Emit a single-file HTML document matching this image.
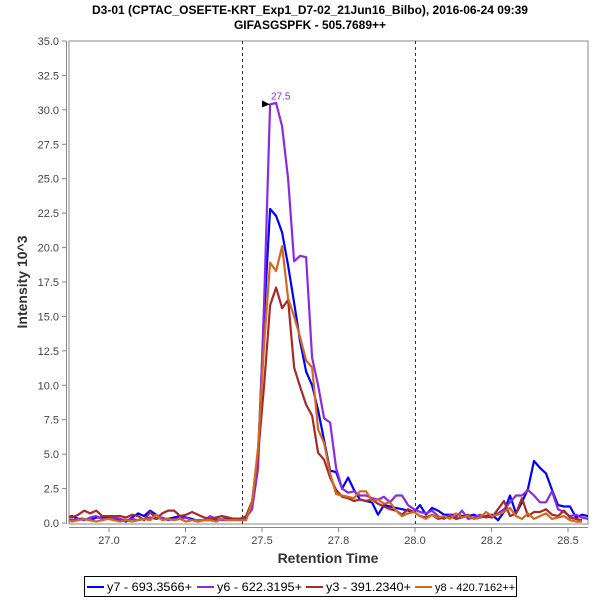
<!DOCTYPE html>
<html><head><meta charset="utf-8">
<style>
html,body{margin:0;padding:0;background:#fff;}
svg{display:block;font-family:"Liberation Sans",sans-serif;}
</style></head>
<body>
<svg id="chart" width="600" height="600" viewBox="0 0 600 600">
  <text x="310" y="14" text-anchor="middle" font-size="12" font-weight="bold" fill="#000">D3-01 (CPTAC_OSEFTE-KRT_Exp1_D7-02_21Jun16_Bilbo), 2016-06-24 09:39</text>
  <text x="310" y="29" text-anchor="middle" font-size="12" font-weight="bold" fill="#000">GIFASGSPFK - 505.7689++</text>
  <rect x="69" y="41" width="519" height="483" fill="#fff" stroke="#888" stroke-width="1"/>
  <g id="yaxis"></g>
  <g id="xaxis"></g>
  <g id="markers"></g>
  <g id="series"></g>
  <text transform="translate(27,282) rotate(-90)" text-anchor="middle" font-size="14" font-weight="bold" fill="#333">Intensity 10^3</text>
  <text x="328" y="563" text-anchor="middle" font-size="14" font-weight="bold" fill="#333">Retention Time</text>
  <g>
    <rect x="84.5" y="576.5" width="432" height="20" fill="#fff" stroke="#000" stroke-width="1"/>
    <g><line x1="87" y1="587" x2="104" y2="587" stroke="#0000ff" stroke-width="2"/><text x="107" y="591" font-size="11.5" textLength="85" lengthAdjust="spacingAndGlyphs" fill="#000">y7 - 693.3566+</text></g>
    <g><line x1="197" y1="587" x2="214" y2="587" stroke="#8a2be2" stroke-width="2"/><text x="217" y="591" font-size="11.5" textLength="85" lengthAdjust="spacingAndGlyphs" fill="#000">y6 - 622.3195+</text></g>
    <g><line x1="306" y1="587" x2="323" y2="587" stroke="#a52a2a" stroke-width="2"/><text x="326" y="591" font-size="11.5" textLength="85" lengthAdjust="spacingAndGlyphs" fill="#000">y3 - 391.2340+</text></g>
    <g><line x1="415" y1="587" x2="432" y2="587" stroke="#d2691e" stroke-width="2"/><text x="435" y="591" font-size="11" fill="#000">y8 - 420.7162++</text></g>
  </g>
</svg>
<script>
const yTicks = [0, 2.5, 5, 7.5, 10, 12.5, 15, 17.5, 20, 22.5, 25, 27.5, 30, 32.5, 35];
const xTicks = [27.0, 27.25, 27.5, 27.75, 28.0, 28.25, 28.5];
const xTickLabels = ["27.0", "27.2", "27.5", "27.8", "28.0", "28.2", "28.5"];
const boundaryTimes = [27.435, 28.0];
const timeStart = 26.86;
const timeStep = 0.0196;
const y7 = [0.4,0.5,0.3,0.3,0.2,0.4,0.4,0.4,0.3,0.2,0.1,0.4,0.7,0.5,0.9,0.6,0.3,0.3,0.4,0.5,0.4,0.3,0.1,0.2,0.2,0.2,0.3,0.3,0.3,0.3,
  0.3,1.5,5,15,22.8,22.3,21.1,18.7,16,13.2,11,10,8.2,6,3.8,3.7,2.5,3.3,2.4,1.7,1.6,1.5,0.6,1.3,1.2,1.1,1.0,0.9,0.8,
  1.3,0.6,1.1,0.9,0.6,0.6,0.6,0.5,0.5,0.6,0.4,0.5,0.6,0.2,0.8,2.0,0.7,1.5,2.5,4.5,4.0,3.6,2.4,1.3,1.2,1.2,0.4,0.6,0.5];
const y6 = [0.3,0.2,0.3,0.2,0.4,0.5,0.3,0.3,0.4,0.3,0.2,0.3,0.2,0.3,0.4,0.3,0.4,0.2,0.3,0.3,0.4,0.2,0.2,0.2,0.5,0.3,0.2,0.2,0.3,0.3,
  0.4,1.0,4,16,30.4,30.5,28.8,25.0,19.0,19.4,19.3,12,10,7.6,7.3,4.0,2.5,2.2,2.3,2.0,2.0,1.8,1.7,1.9,1.5,2.0,2.0,1.3,1.0,
  0.8,0.7,0.9,0.5,0.3,0.6,0.4,0.9,0.3,0.4,0.6,0.4,0.5,0.7,1.0,1.5,2.0,2.0,2.4,2.0,1.5,1.5,2.3,1.0,0.8,0.5,0.6,0.4,0.3];
const y3 = [0.5,0.4,0.6,0.9,0.7,0.9,0.5,0.5,0.5,0.5,0.4,0.6,0.5,0.2,0.8,0.3,0.7,0.9,0.9,0.5,0.6,0.8,0.6,0.4,0.3,0.4,0.5,0.4,0.3,0.3,
  0.5,1.6,5,10,15.8,17.1,15.6,16.2,11.3,9.9,8.6,7.8,5.1,4.6,3.3,2.4,1.9,1.8,1.6,1.7,1.6,1.7,1.4,1.2,1.0,0.9,0.6,1.0,0.8,
  0.5,0.4,0.6,0.3,0.4,0.5,0.3,0.4,0.6,0.3,0.4,0.5,0.4,1.0,1.6,0.5,0.7,1.8,0.5,0.8,0.8,1.0,0.6,0.5,0.9,0.4,0.3,0.2];
const y8 = [0.2,0.1,0.2,0.3,0.2,0.1,0.2,0.3,0.2,0.1,0.2,0.1,0.2,0.3,0.2,0.6,0.2,0.3,0.2,0.3,0.1,0.2,0.1,0.2,0.2,0.1,0.3,0.2,0.2,0.2,
  0.2,1.5,5.5,13,18.9,18.3,20.1,16.3,15.0,13.5,11.8,11.3,6.8,5.8,3.6,2.1,2.0,1.9,1.8,2.3,2.3,1.6,1.7,1.4,1.5,0.9,0.5,0.7,0.8,
  0.5,0.3,0.6,0.4,0.5,0.3,0.7,0.4,0.5,0.3,0.4,0.8,0.5,0.6,0.8,1.1,0.5,0.3,0.7,0.3,0.5,0.7,0.3,0.4,0.5,0.2,0.1,0.1];
const seriesNames = ["y7", "y6", "y3", "y8"];
const seriesValues = [y7, y6, y3, y8];
const seriesColors = ["#0000ff", "#8a2be2", "#a52a2a", "#d2691e"];
const peakLabel = "27.5";
const peakTime = 27.526;
const peakValue = 30.4;

const NS = "http://www.w3.org/2000/svg";
const X0 = 68, PX = 306, XMIN = 26.866;
const Y0 = 523, PY = (523 - 41) / 35;
function xs(t) { return X0 + (t - XMIN) * PX; }
function ys(v) { return Y0 - v * PY; }
function mk(tag, attrs, parent) {
  const e = document.createElementNS(NS, tag);
  for (const k in attrs) e.setAttribute(k, attrs[k]);
  parent.appendChild(e);
  return e;
}
const yAxis = document.getElementById("yaxis");
const xAxis = document.getElementById("xaxis");
mk("line", {x1: 66.5, y1: 41, x2: 66.5, y2: 524, stroke: "#888"}, yAxis);
yTicks.forEach(v => {
  const y = ys(v);
  const t = mk("line", {x1: 62, y1: y, x2: 66.5, y2: y, stroke: "#888"}, yAxis);
  
  
  const l = mk("text", {x: 59, y: y + 4, "text-anchor": "end", "font-size": 11, fill: "#444"}, yAxis);
  
  
  l.textContent = v.toFixed(1);
});
mk("line", {x1: 69, y1: 527.5, x2: 588, y2: 527.5, stroke: "#888"}, xAxis);
xTicks.forEach((v, i) => {
  const x = xs(v);
  const t = mk("line", {x1: x, y1: 527.5, x2: x, y2: 532, stroke: "#888"}, xAxis);
  
  
  const l = mk("text", {x: x, y: 544, "text-anchor": "middle", "font-size": 11, fill: "#444"}, xAxis);
  
  
  l.textContent = xTickLabels[i];
});
const markers = document.getElementById("markers");
boundaryTimes.forEach(t => {
  const x = Math.round(xs(t)) + 0.5;
  const l = mk("line", {x1: x, y1: 41, x2: x, y2: 524, stroke: "#333", "stroke-dasharray": "3,3"}, markers);
  
  
});
const sg = document.getElementById("series");
const clip = mk("clipPath", {id: "pc"}, sg);
mk("rect", {x: 69, y: 41, width: 519, height: 483}, clip);
seriesValues.forEach((vals, si) => {
  const pts = vals.map((v, i) => xs(timeStart + i * timeStep).toFixed(1) + "," + ys(v).toFixed(1)).join(" ");
  const p = mk("polyline", {points: pts, fill: "none", stroke: seriesColors[si], "stroke-width": 2.2, "stroke-linejoin": "round", "clip-path": "url(#pc)"}, sg);
  
  
});
const px = xs(peakTime), py = ys(peakValue);
const tri = mk("polygon", {points: (px - 8) + "," + (py - 4) + " " + px + "," + py + " " + (px - 8) + "," + (py + 3), fill: "#000"}, sg);


const pl = mk("text", {x: px + 1, y: py - 5, "font-size": 10, fill: "#8a2be2"}, sg);


pl.textContent = peakLabel;
</script>
</body></html>
